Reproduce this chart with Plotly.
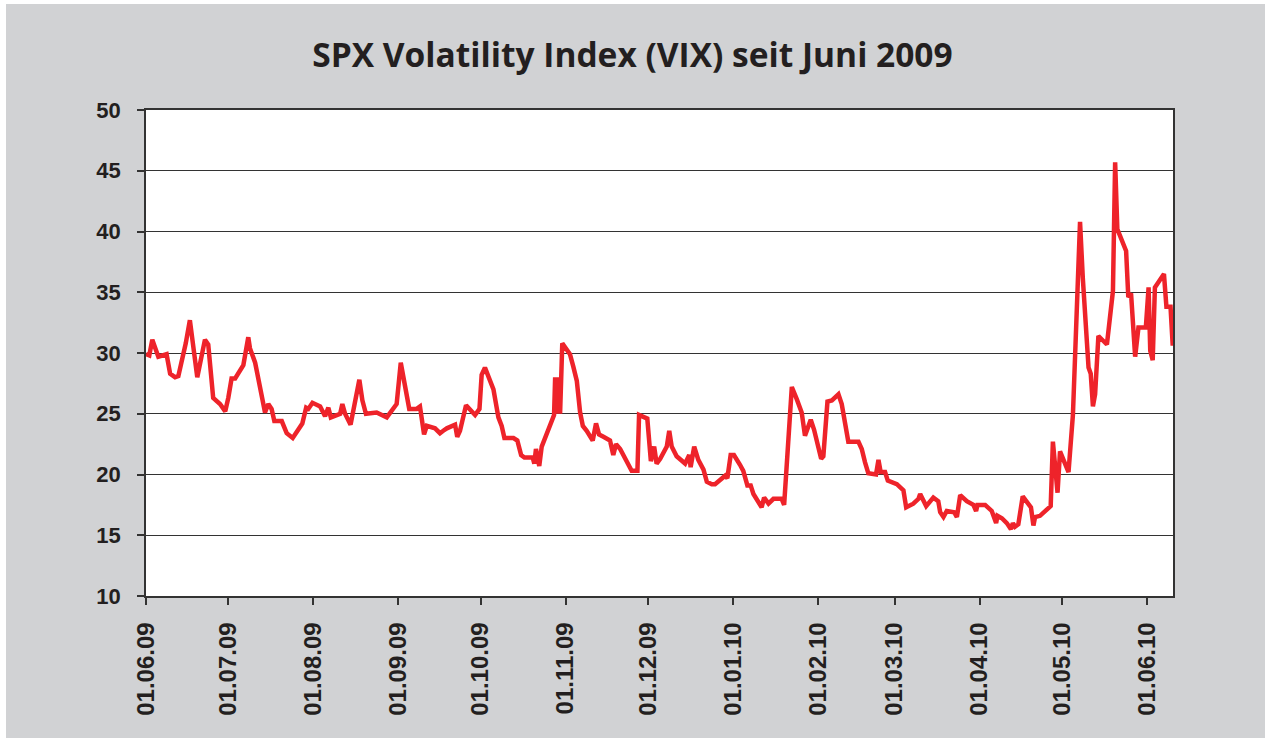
import pandas as pd
import plotly.graph_objects as go

start_date = "2009-06-01"
end_offset = 374.5

day_offsets = [
    0.0, 1.2, 2.3, 4.5, 7.5, 8.8, 10.6, 11.8, 14.5, 16.0, 18.7, 21.5, 22.7, 24.5, 27.0, 28.9,
    30.0, 31.2, 32.5, 35.5, 37.3, 37.9, 39.8, 43.4, 44.6, 45.8, 46.8, 49.5, 51.3, 53.5, 57.0,
    58.4, 59.2, 60.7, 63.5, 65.3, 66.5, 67.4, 70.8, 71.6, 72.6, 74.6, 77.8, 78.9, 80.2, 84.1,
    87.8, 91.4, 92.9, 95.1, 96.0, 98.7, 99.9, 101.4, 102.4, 105.4, 107.2, 108.4, 109.7, 112.7,
    113.5, 114.5, 116.7, 120.0, 121.6, 122.4, 123.6, 126.7, 127.6, 128.5, 129.7, 130.7, 134.0,
    135.4, 136.8, 138.0, 141.0, 141.6, 142.2, 143.4, 144.3, 147.3, 148.8, 149.2, 149.8, 150.4,
    151.0, 151.8, 152.8, 154.6, 155.8, 157.1, 158.3, 159.3, 160.7, 162.9, 164.1, 165.2, 166.8,
    169.2, 170.4, 171.4, 172.9, 175.3, 177.1, 179.2, 179.8, 182.8, 184.1, 185.3, 186.2, 187.5,
    189.9, 190.8, 191.7, 193.5, 196.6, 198.1, 198.6, 199.9, 201.4, 203.3, 204.5, 206.3, 207.5,
    211.2, 212.0, 213.2, 214.4, 216.6, 217.8, 219.3, 220.5, 221.5, 224.5, 225.4, 227.0, 228.8,
    231.8, 232.7, 235.5, 237.3, 239.1, 240.3, 242.4, 243.6, 245.2, 246.2, 247.0, 248.5, 250.1,
    252.5, 253.7, 256.1, 259.8, 261.0, 262.2, 263.4, 266.2, 267.1, 267.9, 269.5, 270.5, 273.8,
    276.2, 277.2, 279.8, 281.7, 282.3, 284.5, 287.1, 288.9, 289.6, 290.8, 292.0, 294.7, 295.7,
    296.9, 299.3, 301.7, 302.7, 303.2, 306.0, 308.4, 310.0, 310.5, 312.1, 313.9, 315.4, 316.1,
    316.9, 318.1, 319.7, 321.2, 322.7, 323.6, 324.2, 326.0, 327.8, 329.9, 330.7, 332.4, 333.3,
    334.8, 336.4, 338.0, 338.8, 339.6, 340.6, 341.6, 342.4, 343.7, 344.5, 345.3, 346.1, 347.3,
    350.4, 351.6, 352.6, 353.4, 354.2, 357.4, 358.2, 359.2, 360.7, 361.9, 364.6, 365.6, 366.2,
    367.1, 367.9, 371.2, 372.1, 373.6, 374.4,
]

vix_values = [
    29.9, 29.8, 31.1, 29.7, 29.9, 28.3, 28.0, 28.1, 30.8, 32.7, 28.0, 31.1, 30.7, 26.3, 25.8, 25.2,
    26.3, 27.9, 27.9, 29.0, 31.3, 30.4, 29.2, 25.1, 25.8, 25.4, 24.4, 24.4, 23.4, 23.0, 24.2,
    25.5, 25.4, 25.9, 25.6, 24.8, 25.5, 24.7, 25.0, 25.8, 25.0, 24.1, 27.8, 26.1, 25.0, 25.1,
    24.7, 25.8, 29.2, 26.3, 25.4, 25.4, 25.6, 23.3, 24.0, 23.8, 23.4, 23.6, 23.8, 24.1,
    23.1, 23.6, 25.7, 24.9, 25.4, 28.2, 28.8, 27.0, 26.0, 24.7, 24.0, 23.0, 23.0,
    22.8, 21.6, 21.4, 21.4, 20.9, 22.1, 20.7, 22.3, 23.9, 24.9, 28.0, 25.0, 28.0,
    25.0, 30.8, 30.5, 29.9, 28.9, 27.7, 25.1, 24.0, 23.6, 22.8, 24.2, 23.3, 23.1,
    22.8, 21.6, 22.5, 22.1, 21.1, 20.3, 20.3, 24.9, 24.6, 21.1, 22.3, 20.9, 21.3,
    22.3, 23.6, 22.3, 21.5, 20.9, 21.6, 20.6, 22.3, 21.2, 20.4, 19.4, 19.2, 19.2,
    19.9, 19.7, 21.6, 21.6, 20.8, 20.3, 19.1, 19.1, 18.4, 17.3, 18.1, 17.6, 18.0,
    18.0, 17.5, 27.2, 26.2, 25.1, 23.2, 24.5, 23.7, 22.3, 21.3, 21.5, 26.0, 26.1,
    26.6, 25.8, 22.7, 22.7, 22.1, 21.0, 20.1, 20.0, 21.2, 20.2, 20.2, 19.5, 19.2,
    18.7, 17.3, 17.6, 18.0, 18.4, 17.4, 18.1, 17.8, 16.9, 16.5, 17.0, 16.9, 16.5,
    18.3, 17.8, 17.5, 17.0, 17.5, 17.5, 17.0, 16.0, 16.6, 16.4, 16.0, 15.5, 16.0,
    15.7, 15.9, 18.2, 17.8, 17.3, 15.8, 16.5, 16.6, 17.0, 17.4, 22.7, 18.5, 21.9,
    21.1, 20.2, 24.9, 30.2, 34.9, 40.8, 36.2, 32.9, 28.8, 28.3, 25.6, 26.6, 31.4,
    30.7, 33.5, 35.1, 45.7, 40.2, 38.4, 34.6, 34.9, 29.7, 32.1, 32.1, 35.4, 30.2,
    29.4, 35.4, 36.5, 33.8, 33.8, 30.6,
]

y_ticks = [10, 15, 20, 25, 30, 35, 40, 45, 50]
title_text = "SPX Volatility Index (VIX) seit Juni 2009"

base = pd.Timestamp(start_date)
dates = base + pd.to_timedelta(day_offsets, unit="D")
x_end = base + pd.to_timedelta(end_offset, unit="D")

text_color = "#231f20"
grid_color = "#333333"

fig_w, fig_h = 1265, 738
pl, pr, pt, pb = 146, 92, 110, 142
pw, ph = fig_w - pl - pr, fig_h - pt - pb

fig = go.Figure()
fig.add_trace(go.Scatter(
    x=dates, y=vix_values, mode="lines",
    line=dict(color="#ee232a", width=4.5),
    hoverinfo="x+y", showlegend=False,
))

def px_rect(x0, y0, x1, y1):
    # rectangle given in page pixels, converted to paper coordinates
    return dict(type="rect", xref="paper", yref="paper", layer="below",
                x0=(x0 - pl) / pw, x1=(x1 - pl) / pw,
                y0=(fig_h - pb - y1) / ph, y1=(fig_h - pb - y0) / ph,
                fillcolor="#ffffff", line=dict(width=0))

fig.update_layout(
    width=fig_w, height=fig_h,
    paper_bgcolor="#d1d2d4",
    plot_bgcolor="#ffffff",
    margin=dict(l=pl, r=pr, t=pt, b=pb, autoexpand=False),
    title=dict(
        text=title_text, x=0.5, xanchor="center", y=1 - 55 / fig_h, yanchor="middle",
        yref="container",
        font=dict(family="Open Sans", size=33.5, color=text_color, weight="bold"),
    ),
    xaxis=dict(
        type="date",
        range=[base, x_end],
        tick0=start_date, dtick="M1", tickformat="%d.%m.%y",
        tickangle=-90,
        ticks="outside", ticklen=7, tickwidth=1.5, tickcolor=grid_color,
        ticklabelstandoff=8,
        showgrid=False,
        showline=True, linecolor=grid_color, linewidth=1.5, mirror=True,
        tickfont=dict(family="Liberation Sans", size=24, color=text_color, weight="bold"),
        zeroline=False,
    ),
    yaxis=dict(
        range=[10, 50],
        tickvals=y_ticks,
        ticks="outside", ticklen=7, tickwidth=1.5, tickcolor=grid_color,
        ticklabelstandoff=12,
        showgrid=True, gridcolor=grid_color, gridwidth=1.4,
        showline=True, linecolor=grid_color, linewidth=1.5, mirror=True,
        tickfont=dict(family="Liberation Sans", size=22, color=text_color, weight="bold"),
        zeroline=False,
    ),
    shapes=[
        px_rect(0, 0, 6, fig_h),
        px_rect(0, 0, fig_w, 4),
    ],
)

fig.write_html(
    "out.html",
    config={"displayModeBar": False},
    post_script="document.body.style.margin='0';document.body.style.overflow='hidden';",
)
